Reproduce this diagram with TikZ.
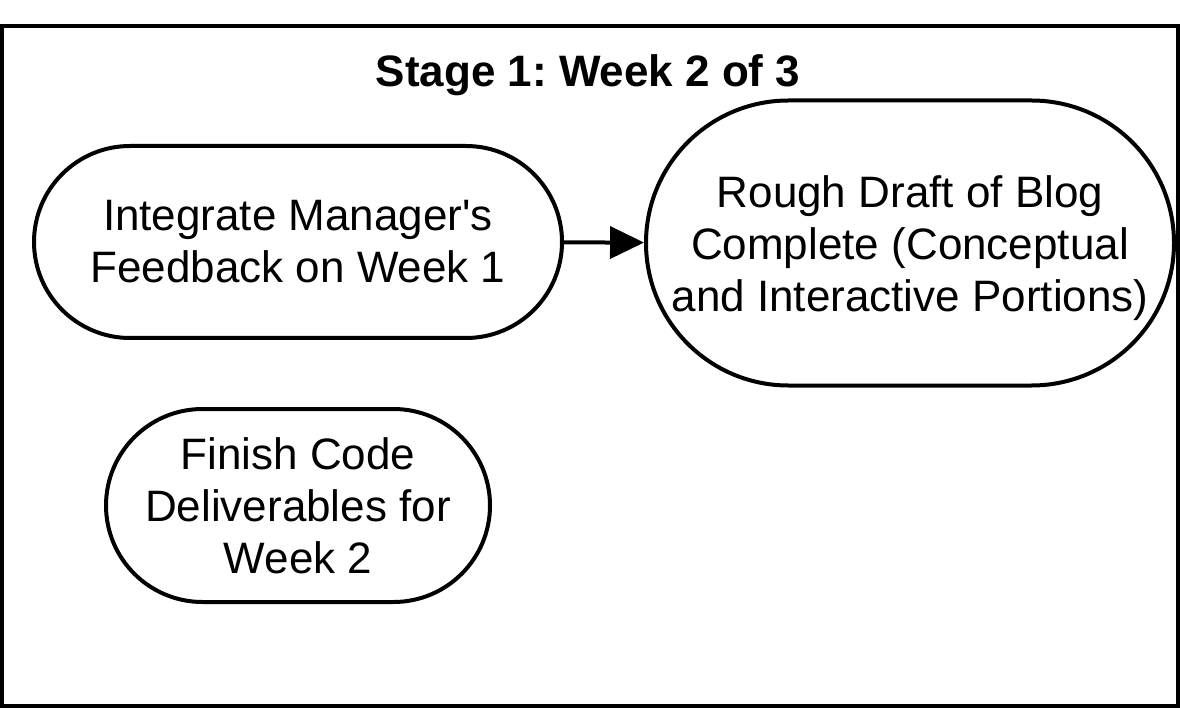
\documentclass[tikz,border=0pt]{standalone}
\usepackage{fontspec}
\setmainfont{Liberation Sans}
\usetikzlibrary{arrows.meta,positioning,shapes.misc}

\begin{document}
\frenchspacing
\begin{tikzpicture}[x=1pt,y=-1pt,node distance=80pt,
  task/.style={rounded rectangle,draw,line width=4pt,inner sep=0pt,align=center,
    font=\fontsize{44}{52}\selectfont}]
  \useasboundingbox (0,0) rectangle (1180,708);
  \draw[line width=4pt] (2,26) rectangle (1178,706);
  \node[font=\bfseries\fontsize{44}{52}\selectfont] (title) at (588,75) {Stage 1: Week 2 of 3};
  \node[task,minimum width=528pt,minimum height=192pt] (integrate) at (298,242)
    {Integrate Manager\textquotesingle s\\Feedback on Week 1};
  \node[task,minimum width=528pt,minimum height=285pt] (draft) [right=of integrate,yshift=-1pt]
    {\rule{0pt}{42pt}Rough Draft of Blog\\Complete (Conceptual\\and Interactive Portions)};
  \node[task,minimum width=384pt,minimum height=193pt] (finish) [below=67pt of integrate]
    {Finish Code\\Deliverables for\\Week 2};
  \path[line width=4pt,-{Triangle[length=34pt,width=32pt]}]
  (integrate) edge (draft);
\end{tikzpicture}
\end{document}
